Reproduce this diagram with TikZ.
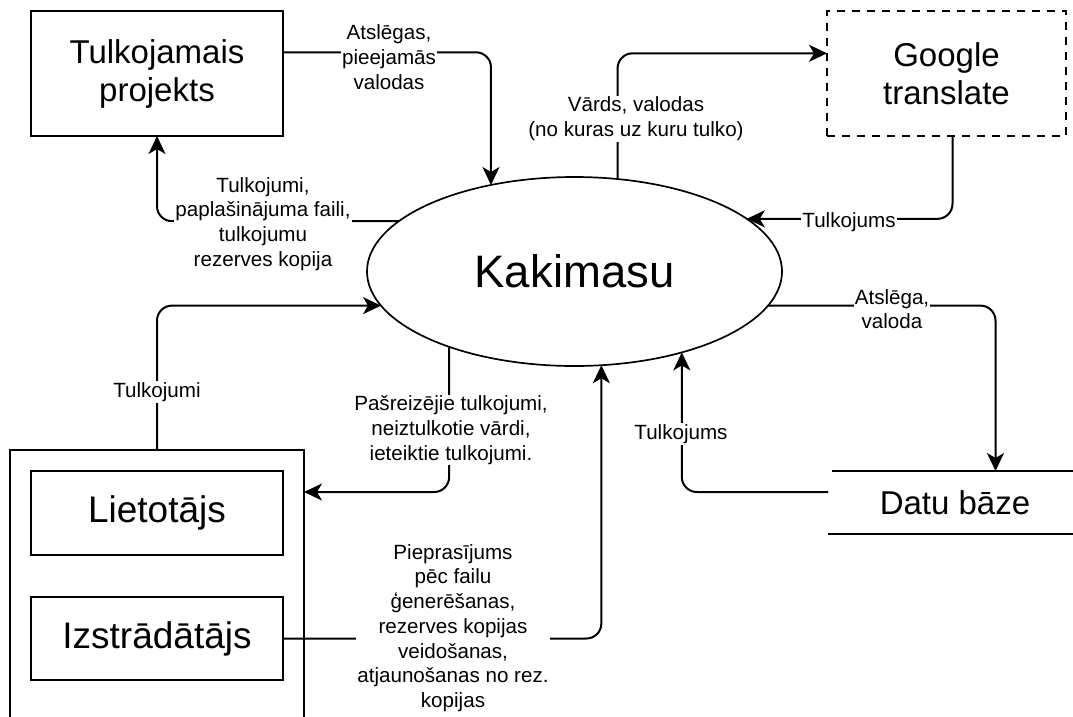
\documentclass[tikz,border=0pt]{standalone}
\usepackage{fontspec}
\setmainfont{Liberation Sans}
\usetikzlibrary{arrows.meta,shapes.geometric}

\begin{document}
\begin{tikzpicture}[x=1pt,y=1pt,
  box/.style={draw,line width=2pt,minimum width=252pt,inner sep=0pt,outer sep=0pt,
    align=center,font=\fontsize{33}{38}\selectfont},
  actorbox/.style={box,font=\fontsize{37}{43}\selectfont},
  flow/.style={line width=2pt,rounded corners=15pt,
    -{Stealth[length=18pt,width=17pt,inset=5pt]}},
  lbl/.style={fill=white,inner sep=1pt,align=center,
    font=\fontsize{20.6}{24.7}\selectfont}]
\useasboundingbox (0,0) rectangle (1073,-716);

% external entities and the system process
\node[box,minimum height=125pt] (tp) at (157,-73.5) {Tulkojamais\\projekts};
\node[box,minimum width=239pt,minimum height=125pt,dash pattern=on 8pt off 7pt] (gt) at (946.5,-73.5) {Google\\translate};
\node[ellipse,draw,line width=1.7pt,minimum width=415pt,minimum height=189pt,
  inner sep=0pt,outer sep=0pt,font=\fontsize{45.5}{52}\selectfont] (k) at (574.5,-271.5) {Kakimasu};

% users group
\node[draw,line width=2pt,minimum width=294pt,minimum height=280pt,
  inner sep=0pt,outer sep=0pt] (actor) at (157,-590) {};
\node[actorbox,minimum height=84pt] (lu) at (157,-513) {Lietotājs};
\node[actorbox,minimum height=83pt] (iz) at (157,-638.5) {Izstrādātājs};

% data store
\node[minimum width=254pt,minimum height=63pt,inner sep=0pt,outer sep=0pt,
  font=\fontsize{33}{38}\selectfont] (db) at (955,-502.5) {Datu bāze};
\draw[line width=2pt] ([xshift=4pt]db.north west) -- (db.north east);
\draw[line width=2pt] (db.south west) -- (db.south east);

% data flows
\draw[flow] ([yshift=21.2pt]tp.east) -| (k.134);
\draw[flow] (k.164) -| (tp.south);
\draw[flow] (k.65) |- ([yshift=20.2pt]gt.west);
\draw[flow] ([xshift=6pt]gt.south) |- (k.17);
\draw[flow] (k.350) -| ([xshift=40.5pt]db.north);
\draw[flow] ([yshift=10.5pt]db.west) -| (k.323);
\draw[flow] (actor.north) |- (k.190);
\draw[flow] (k.211) |- ([yshift=98pt]actor.east);
\draw[flow] (iz.east) -| (k.286);

% flow labels
\node[lbl] (l1) at (389,-57) {Atslēgas,\\pieejamās\\valodas};
\node[lbl] (l2) at (263,-224) {Tulkojumi,\\paplašinājuma faili,\\tulkojumu\\rezerves kopija};
\node[lbl] (l3) at (636,-119) {Vārds, valodas\\(no kuras uz kuru tulko)};
\node[lbl] (l4) at (849,-222) {Tulkojums};
\node[lbl] (l5) at (892,-309) {Atslēga,\\valoda};
\node[lbl] (l6) at (681,-434) {Tulkojums};
\node[lbl] (l7) at (157,-392) {Tulkojumi};
\node[lbl] (l8) at (451,-430) {Pašreizējie tulkojumi,\\neiztulkotie vārdi,\\ieteiktie tulkojumi.};
\node[lbl] (l9) at (453,-628) {Pieprasījums\\pēc failu\\ģenerēšanas,\\rezerves kopijas\\veidošanas,\\atjaunošanas no rez.\\kopijas};
\end{tikzpicture}
\end{document}
